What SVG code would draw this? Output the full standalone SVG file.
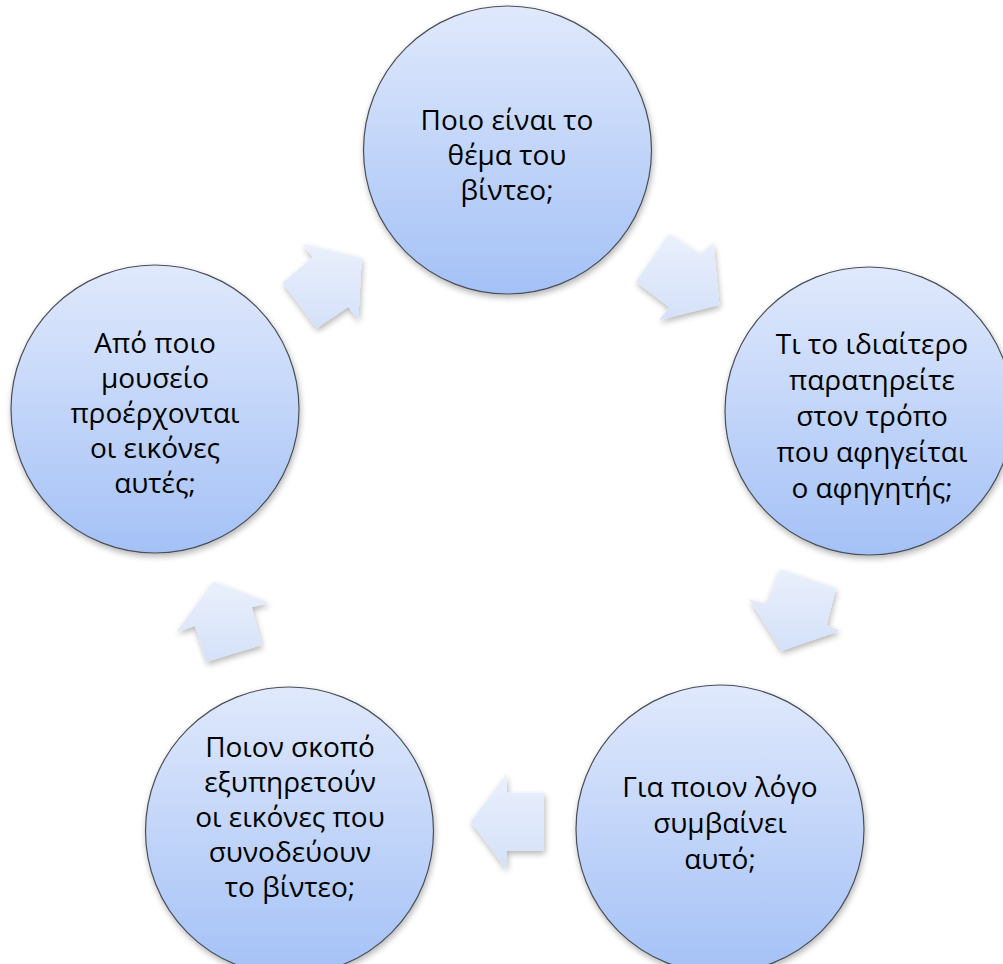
<svg xmlns="http://www.w3.org/2000/svg" width="1003" height="964" viewBox="0 0 1003 964">
<defs>
<linearGradient id="gc" x1="0" y1="0" x2="0" y2="1">
<stop offset="0" stop-color="#e0e9fc"/>
<stop offset="1" stop-color="#a4c1f6"/>
</linearGradient>
<linearGradient id="ga" x1="0" y1="0" x2="0" y2="1">
<stop offset="0" stop-color="#eaf0fc"/>
<stop offset="1" stop-color="#d4e1f9"/>
</linearGradient>
<filter id="sh" x="-20%" y="-20%" width="140%" height="150%">
<feGaussianBlur in="SourceAlpha" stdDeviation="3"/>
<feOffset dx="1" dy="3" result="o"/>
<feComponentTransfer><feFuncA type="linear" slope="0.3"/></feComponentTransfer>
<feMerge><feMergeNode/><feMergeNode in="SourceGraphic"/></feMerge>
</filter>
<style>
.c{fill:url(#gc);stroke:#4a4f58;stroke-width:1.2;filter:url(#sh)}
.a{fill:url(#ga);stroke:none;filter:url(#sh)}
text{font-family:"Open Sans","Noto Sans","Liberation Sans",sans-serif;font-size:28px;fill:#000;text-anchor:middle}
</style>
</defs>
<rect width="1003" height="964" fill="#fff"/>
<g id="connectors">
<polygon class="a" points="282.7,282.7 312.7,257.3 302.3,244 361.7,258.3 358.3,320 348.3,306.7 316.7,328.3"/>
<polygon class="a" points="636,281.7 669.3,234 700,255 713.3,242.7 719.3,305 659.3,320 669.3,307.3"/>
<polygon class="a" points="780,569.3 836,588.3 826.7,625 840,630.7 781.7,650.7 749.3,599.3 766,604"/>
<polygon class="a" points="544,792.7 544,850.7 506.7,850.7 506.7,869.5 470.7,821.7 506.7,774 506.7,792.7"/>
<polygon class="a" points="213.3,581.7 269.3,602.7 251.7,607.3 261.7,645 206.7,661.7 195,626 176.7,631.7"/>
</g>
<g id="node1">
<circle class="c" cx="507.5" cy="150" r="144"/>
<text x="507" y="130">Ποιο είναι το</text>
<text x="507" y="165">θέμα του</text>
<text x="507" y="200">βίντεο;</text>
</g>
<g id="node2">
<circle class="c" cx="869" cy="411" r="144"/>
<text x="872" y="354">Τι το ιδιαίτερο</text>
<text x="872" y="390">παρατηρείτε</text>
<text x="872" y="426">στον τρόπο</text>
<text x="872" y="462">που αφηγείται</text>
<text x="872" y="498">ο αφηγητής;</text>
</g>
<g id="node3">
<circle class="c" cx="720" cy="829" r="144"/>
<text x="720" y="797">Για ποιον λόγο</text>
<text x="720" y="833">συμβαίνει</text>
<text x="720" y="869">αυτό;</text>
</g>
<g id="node4">
<circle class="c" cx="289.5" cy="831" r="144"/>
<text x="290" y="757">Ποιον σκοπό</text>
<text x="290" y="792">εξυπηρετούν</text>
<text x="290" y="827">οι εικόνες που</text>
<text x="290" y="862">συνοδεύουν</text>
<text x="290" y="897">το βίντεο;</text>
</g>
<g id="node5">
<circle class="c" cx="155" cy="409" r="144"/>
<text x="155" y="353">Από ποιο</text>
<text x="155" y="388">μουσείο</text>
<text x="155" y="423">προέρχονται</text>
<text x="155" y="458">οι εικόνες</text>
<text x="155" y="493">αυτές;</text>
</g>
</svg>
